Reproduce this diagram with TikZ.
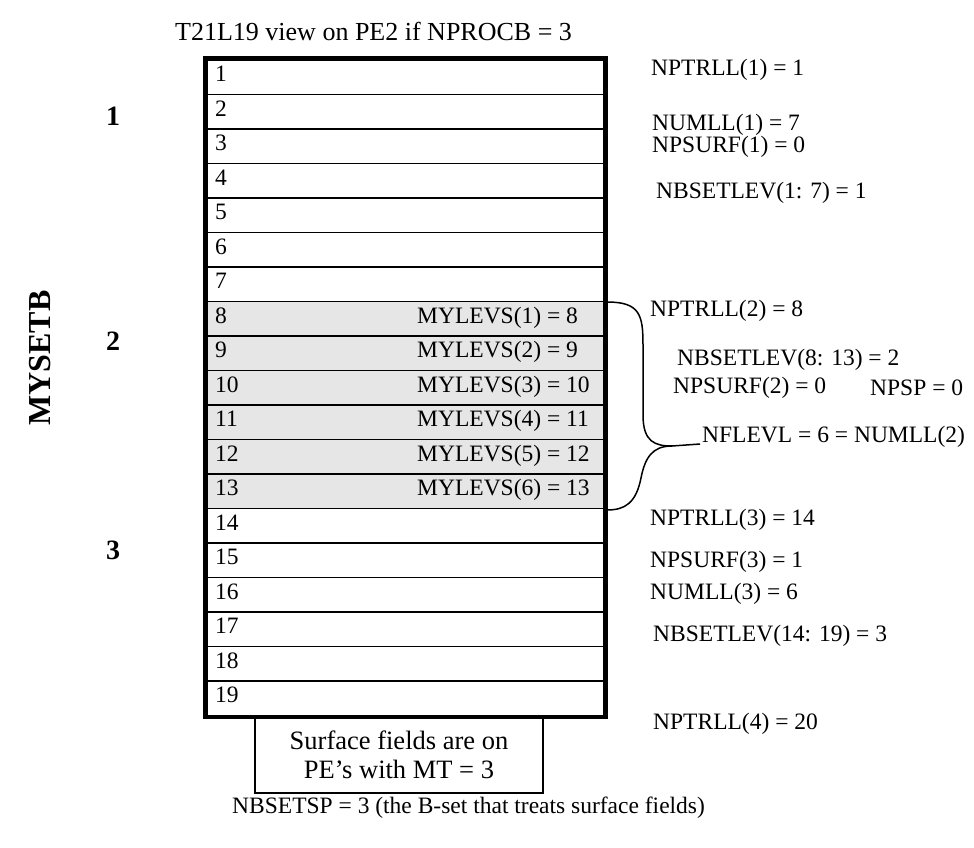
\documentclass[tikz,border=0pt]{standalone}
\usepackage{fontspec}
\setmainfont{Liberation Serif}

\definecolor{lev}{RGB}{230,230,230}

\tikzset{
  row/.style={line width=1.5pt},
  num/.style={anchor=west, inner sep=0pt},
  var/.style={anchor=west, inner sep=0pt},
  setno/.style={font=\fontsize{28}{30}\selectfont\bfseries},
}

\begin{document}
\begin{tikzpicture}[x=1pt,y=-1pt,font=\fontsize{23.5}{25}\selectfont]

    \useasboundingbox (0,0) rectangle (974,848);

    \node[var,font=\fontsize{26}{28}\selectfont] (title) at (175,31) {T21L19 view on PE2 if NPROCB = 3};

    % the levels
    \draw[row] (207,60) rectangle (604,94.5);
    \draw[row] (207,94.5) rectangle (604,129);
    \draw[row] (207,129) rectangle (604,163.5);
    \draw[row] (207,163.5) rectangle (604,198);
    \draw[row] (207,198) rectangle (604,232.5);
    \draw[row] (207,232.5) rectangle (604,267);
    \draw[row] (207,267) rectangle (604,301.5);
    \draw[row,fill=lev] (207,301.5) rectangle (604,336);
    \draw[row,fill=lev] (207,336) rectangle (604,370.5);
    \draw[row,fill=lev] (207,370.5) rectangle (604,405);
    \draw[row,fill=lev] (207,405) rectangle (604,439.5);
    \draw[row,fill=lev] (207,439.5) rectangle (604,474);
    \draw[row,fill=lev] (207,474) rectangle (604,508.5);
    \draw[row] (207,508.5) rectangle (604,543);
    \draw[row] (207,543) rectangle (604,577.5);
    \draw[row] (207,577.5) rectangle (604,612);
    \draw[row] (207,612) rectangle (604,646.5);
    \draw[row] (207,646.5) rectangle (604,681);
    \draw[row] (207,681) rectangle (604,715.5);

    \draw[line width=4.5pt] (205,58) rectangle (606,717);

    \node[num] (l1)  at (215,74)    {1};
    \node[num] (l2)  at (215,108.5) {2};
    \node[num] (l3)  at (215,143)   {3};
    \node[num] (l4)  at (215,177.5) {4};
    \node[num] (l5)  at (215,212)   {5};
    \node[num] (l6)  at (215,246.5) {6};
    \node[num] (l7)  at (215,281)   {7};
    \node[num] (l8)  at (215,315.5) {8};
    \node[num] (l9)  at (215,350)   {9};
    \node[num] (l10) at (215,384.5) {10};
    \node[num] (l11) at (215,419)   {11};
    \node[num] (l12) at (215,453.5) {12};
    \node[num] (l13) at (215,488)   {13};
    \node[num] (l14) at (215,522.5) {14};
    \node[num] (l15) at (215,557)   {15};
    \node[num] (l16) at (215,591.5) {16};
    \node[num] (l17) at (215,626)   {17};
    \node[num] (l18) at (215,660.5) {18};
    \node[num] (l19) at (215,695)   {19};

    \node[var] (m1) at (417,317.5) {MYLEVS(1) = 8};
    \node[var] (m2) at (417,352)   {MYLEVS(2) = 9};
    \node[var] (m3) at (417,386.5) {MYLEVS(3) = 10};
    \node[var] (m4) at (417,421)   {MYLEVS(4) = 11};
    \node[var] (m5) at (417,455.5) {MYLEVS(5) = 12};
    \node[var] (m6) at (417,490)   {MYLEVS(6) = 13};

    \node[draw,line width=2pt,minimum width=288pt,minimum height=76pt,align=center,
          font=\fontsize{26.5}{29}\selectfont] (surf) at (399,755)
         {Surface fields are on\\PE’s with MT = 3};

    % the B-sets
    \node[setno] (s1) at (113,116) {1};
    \node[setno] (s2) at (113,341) {2};
    \node[setno] (s3) at (113,550) {3};
    \node[font=\fontsize{32}{34}\selectfont\bfseries,rotate=90] (myset) at (40,358) {MYSETB};

    % brace
    \coordinate (btop) at (607,302);
    \coordinate (bbot) at (607,510);
    \coordinate (btip) at (700,444);
    \draw[line width=1.5pt] (btop) .. controls (640,302) and (643,315) .. (643,345)
        -- (643,415) .. controls (643,442) and (655,446) .. (672,446) -- (btip);
    \draw[line width=1.5pt] (672,446) .. controls (652,446) and (645,458) .. (641,478)
        .. controls (636,503) and (625,510) .. (bbot);

    \node[var] (p1) at (651,70)  {NPTRLL(1) = 1};
    \node[var] (u1) at (652,125) {NUMLL(1) = 7};
    \node[var] (f1) at (652,147) {NPSURF(1) = 0};
    \node[var] (n1) at (656,193) {NBSETLEV(1: 7) = 1};

    \node[var] (p2) at (650,311) {NPTRLL(2) = 8};
    \node[var] (n2) at (677,360) {NBSETLEV(8: 13) = 2};
    \node[var] (f2) at (673,388) {NPSURF(2) = 0};
    \node[var] (sp) at (870,388) {NPSP = 0};
    \node[var] (fl) at (702,437) {NFLEVL = 6 = NUMLL(2)};

    \node[var] (p3) at (650,520) {NPTRLL(3) = 14};
    \node[var] (f3) at (650,562) {NPSURF(3) = 1};
    \node[var] (u3) at (650,594) {NUMLL(3) = 6};
    \node[var] (n3) at (653,636) {NBSETLEV(14: 19) = 3};
    \node[var] (p4) at (653,724) {NPTRLL(4) = 20};

    \node[var] (bsp) at (232,808) {NBSETSP = 3 (the B-set that treats surface fields)};

\end{tikzpicture}
\end{document}
